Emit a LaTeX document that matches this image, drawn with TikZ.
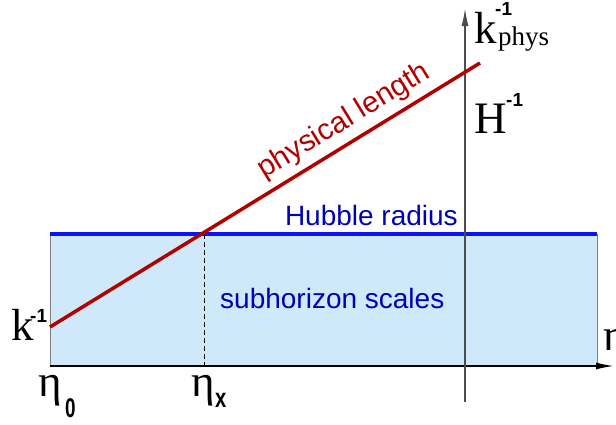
\documentclass[tikz,border=0pt]{standalone}
\usepackage{fontspec}
\setmainfont{Liberation Serif}
\setsansfont{Liberation Sans}
\usetikzlibrary{arrows.meta}
\definecolor{physred}{HTML}{B00000}
\definecolor{hubblue}{HTML}{0A14F5}
\definecolor{txtblue}{HTML}{0000B4}
\definecolor{subfill}{HTML}{CFE9FB}

\begin{document}
\begin{tikzpicture}[x=1pt,y=-1pt,every node/.style={inner sep=0pt},
 big/.style={font=\fontsize{45}{45}\selectfont,anchor=base west},
 small/.style={font=\fontsize{27}{27}\selectfont,anchor=base west},
 sups/.style={font=\sffamily\bfseries\fontsize{19}{19}\selectfont,anchor=base west},
 subs/.style={font=\sffamily\bfseries\fontsize{27}{27}\selectfont,anchor=base west},
 sans/.style={font=\sffamily\fontsize{28}{28}\selectfont},
 axis/.style={line width=1.6pt,-{Latex[length=18pt,width=7pt]}}]
\useasboundingbox (0,0) rectangle (616,424);
% region below the Hubble radius
\coordinate (bl) at (50,366);
\coordinate (tr) at (597,234);
\fill[subfill] (bl) rectangle (tr);
\draw[gray,line width=1pt] (bl) -- (50,234) (597,366) -- (tr);
\draw[hubblue,line width=3.5pt] (50,234) -- (tr);
\node[sans,txtblue,anchor=base east] (hr) at (458,225) {Hubble radius};
\node[sans,txtblue,anchor=base west] (sc) at (220,308) {subhorizon scales};
% horizon crossing
\coordinate (cx) at (204,234);
\draw[dash pattern=on 5pt off 3pt,line width=0.8pt] (cx) -- (204,366);
% axes
\coordinate (xend) at (614,366);
\coordinate (ybot) at (465,402);
\coordinate (yend) at (465,8);
\draw[axis,black] (bl) -- (xend);
\draw[axis,black!70] (ybot) -- (yend);
% physical length
\coordinate (p0) at (50,327);
\coordinate (p1) at (480,63);
\draw[physred,line width=3.5pt] (p0) -- node[pos=0.71,sloped,above=6pt,sans,font=\sffamily\fontsize{29.5}{29.5}\selectfont,physred] (pl) {physical length} (p1);
% labels
\node[big] (k) at (11,340) {k};
\node[sups] (km) at (30,322) {-1};
\node[big] (e0) at (38,396) {η};
\node[subs] (e0s) at (65,417) {\scalebox{0.7}[1]{0}};
\node[big] (ex) at (191,396) {η};
\node[subs] (exs) at (215,407) {\scalebox{0.75}[1]{x}};
\node[big] (kp) at (474,43) {k};
\node[small] (kps) at (498,45) {phys};
\node[sups] (kpm) at (495,15) {-1};
\node[big] (h) at (474,133) {H};
\node[sups] (hm) at (506,106) {-1};
\node[big] (eta) at (603,350) {η};
\end{tikzpicture}
\end{document}
